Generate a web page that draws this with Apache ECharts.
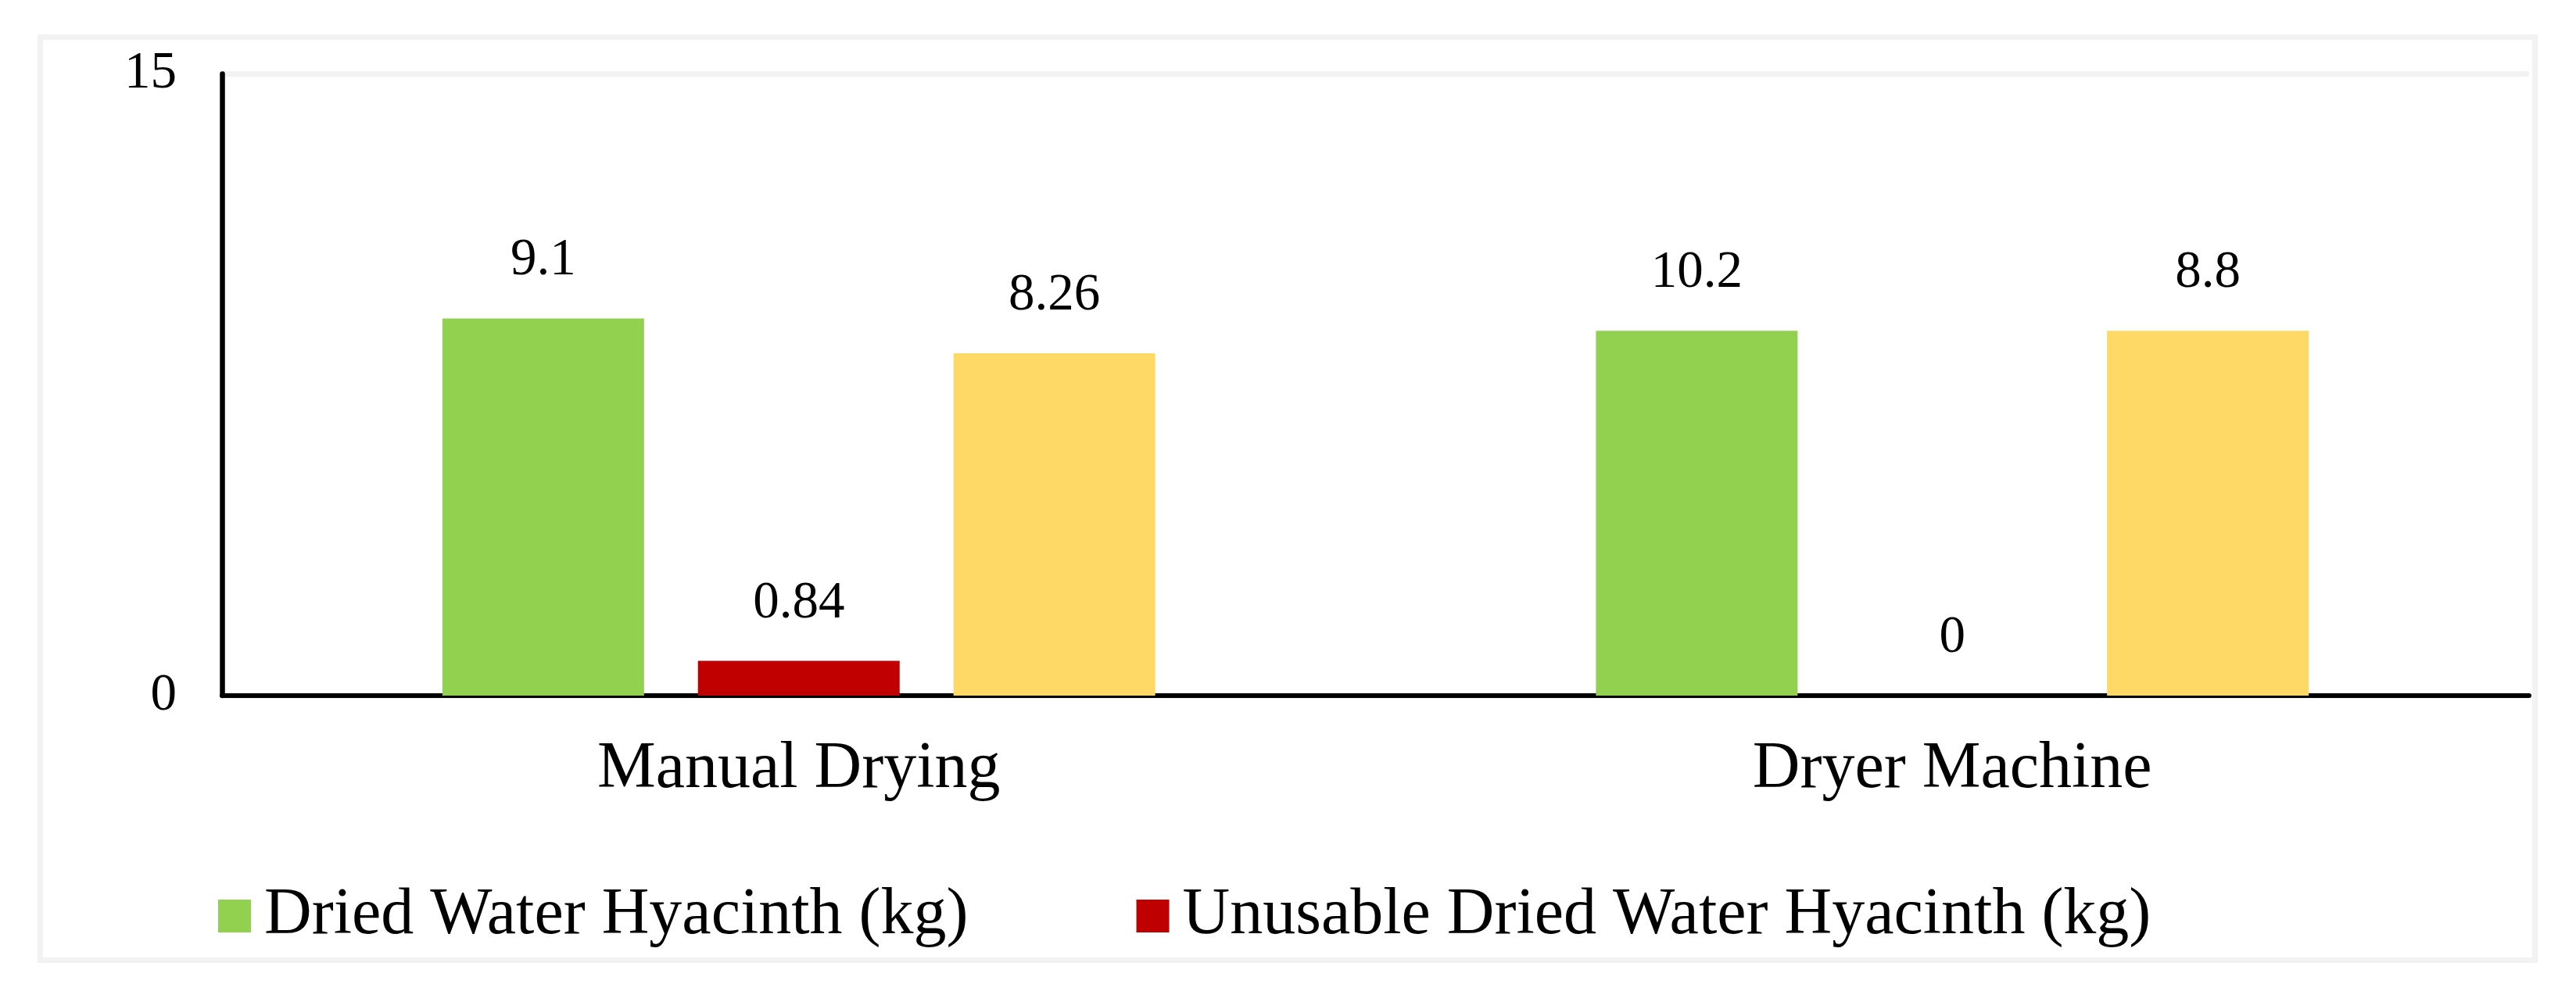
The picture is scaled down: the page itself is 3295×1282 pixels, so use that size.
<!DOCTYPE html>
<html>
<head>
<meta charset="utf-8">
<title>Water hyacinth drying</title>
<script src="https://cdn.jsdelivr.net/npm/echarts@6/dist/echarts.min.js"></script>
<style>
  html, body { margin: 0; padding: 0; background: #fff; }
  #chart { width: 3295px; height: 1282px; }
</style>
</head>
<body>
<div id="chart"></div>
<script>
// categories + values
const categories = ['Manual Drying', 'Dryer Machine']
const seriesNames = ['Dried Water Hyacinth (kg)', 'Unusable Dried Water Hyacinth (kg)', 'Usable Dried Water Hyacinth (kg)']
// bar heights as drawn (the dryer green bar is drawn at ~8.8 though labelled 10.2)
const driedHeights = [9.1, 8.8]
const unusableHeights = [0.84, 0]
const usableHeights = [8.26, 8.8]
// printed value labels
const driedLabels = ['9.1', '10.2']
const unusableLabels = ['0.84', '0']
const usableLabels = ['8.26', '8.8']
const yTicks = [0, 15]

const colors = ['#92D050', '#C00000', '#FFD966']
const serif = "'Liberation Serif', 'Times New Roman', serif"

const chart = echarts.init(document.getElementById('chart'), null, {renderer: 'canvas'})

function barSeries(name, values, labels, color) {
  return {
    name: name,
    type: 'bar',
    data: values,
    barWidth: 258,
    barGap: '26.7%',
    itemStyle: {color: color},
    label: {
      show: true,
      position: 'top',
      distance: 40,
      color: '#000',
      fontFamily: serif,
      fontSize: 67,
      formatter: p => labels[p.dataIndex]
    }
  }
}

chart.setOption({
  animation: false,
  backgroundColor: '#fff',
  graphic: [{
    type: 'rect',
    shape: {x: 51.5, y: 47.5, width: 3191, height: 1181},
    style: {fill: null, stroke: '#F2F2F2', lineWidth: 7},
    silent: true
  }],
  grid: {left: 284, right: 60, top: 94.5, bottom: 392, containLabel: false},
  legend: {
    data: seriesNames.slice(0, 2),
    left: 274,
    top: 1125,
    itemWidth: 42,
    itemHeight: 42,
    itemGap: 215,
    icon: 'rect',
    textStyle: {fontFamily: serif, fontSize: 84, color: '#000', padding: [0, 0, 0, 12]}
  },
  xAxis: {
    type: 'category',
    data: categories,
    axisLine: {lineStyle: {color: '#000', width: 6}},
    axisTick: {show: false},
    axisLabel: {color: '#000', fontFamily: serif, fontSize: 84, margin: 53}
  },
  yAxis: {
    type: 'value',
    min: yTicks[0],
    max: yTicks[yTicks.length - 1],
    interval: 15,
    axisLine: {show: true, lineStyle: {color: '#000', width: 6.5}},
    axisTick: {show: false},
    axisLabel: {color: '#000', fontFamily: serif, fontSize: 67, margin: 58},
    splitLine: {show: true, lineStyle: {color: '#F2F2F2', width: 7}}
  },
  series: [
    barSeries(seriesNames[0], driedHeights, driedLabels, colors[0]),
    barSeries(seriesNames[1], unusableHeights, unusableLabels, colors[1]),
    barSeries(seriesNames[2], usableHeights, usableLabels, colors[2])
  ]
})
</script>
</body>
</html>
